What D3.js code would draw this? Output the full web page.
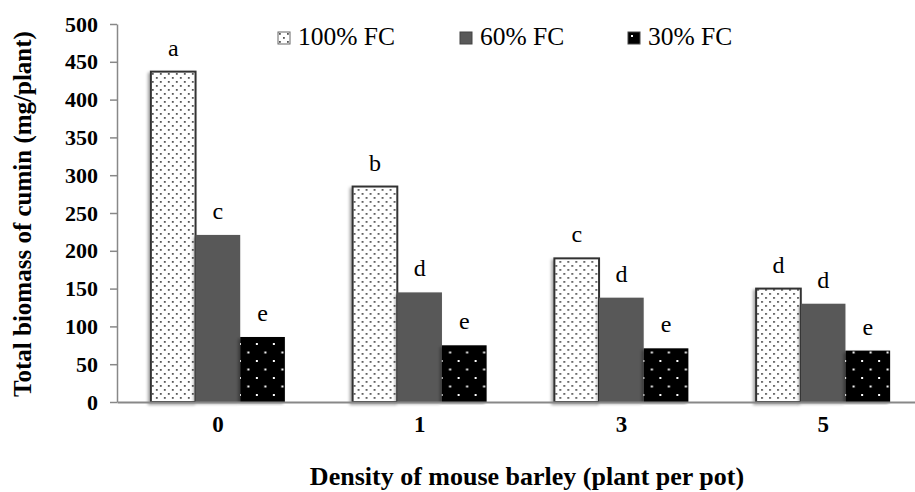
<!DOCTYPE html>
<html>
<head>
<meta charset="utf-8">
<script src="https://cdn.jsdelivr.net/npm/d3@7"></script>
<style>
  body { margin: 0; background: #fff; }
  svg { display: block; font-family: "Liberation Serif", "Times New Roman", serif; }
</style>
</head>
<body>
<div id="chart"></div>
<script>
// data
var densities = ["0", "1", "3", "5"];
var treatments = ["100% FC", "60% FC", "30% FC"];
var fc100 = [437, 285, 190, 150];
var fc60 = [221, 145, 138, 130];
var fc30 = [86, 75, 71, 68];
var letters100 = ["a", "b", "c", "d"];
var letters60 = ["c", "d", "d", "d"];
var letters30 = ["e", "e", "e", "e"];
var yTicks = [0, 50, 100, 150, 200, 250, 300, 350, 400, 450, 500];

var W = 915, H = 492;
var plotL = 117, plotR = 924, plotT = 24, plotB = 402;

var svg = d3.select("#chart").append("svg")
  .attr("width", W)
  .attr("height", H);

var defs = svg.append("defs");

// dotted white pattern for 100% FC
var p1 = defs.append("pattern")
  .attr("id", "dotsLight")
  .attr("patternUnits", "userSpaceOnUse")
  .attr("width", 8).attr("height", 8);
p1.append("rect").attr("width", 8).attr("height", 8).attr("fill", "#fff");
p1.append("rect").attr("x", 1).attr("y", 1).attr("width", 1.8).attr("height", 1.8).attr("fill", "#555");
p1.append("rect").attr("x", 5).attr("y", 5).attr("width", 1.8).attr("height", 1.8).attr("fill", "#555");

// sparse white dots on black for 30% FC
var p3 = defs.append("pattern")
  .attr("id", "dotsDark")
  .attr("patternUnits", "userSpaceOnUse")
  .attr("width", 17).attr("height", 17);
p3.append("rect").attr("width", 17).attr("height", 17).attr("fill", "#000");
p3.append("rect").attr("x", 3).attr("y", 3).attr("width", 2).attr("height", 2).attr("fill", "#fff");
p3.append("rect").attr("x", 11.5).attr("y", 11.5).attr("width", 2).attr("height", 2).attr("fill", "#fff");

var shadow = defs.append("filter").attr("id", "shadow")
  .attr("x", "-20%").attr("y", "-5%").attr("width", "140%").attr("height", "110%");
shadow.append("feDropShadow")
  .attr("dx", -2).attr("dy", 2).attr("stdDeviation", 1.5)
  .attr("flood-color", "#000").attr("flood-opacity", 0.35);

var series = [
  { name: treatments[0], values: fc100, letters: letters100, fill: "url(#dotsLight)", stroke: "#333" },
  { name: treatments[1], values: fc60, letters: letters60, fill: "#595959", stroke: "none" },
  { name: treatments[2], values: fc30, letters: letters30, fill: "url(#dotsDark)", stroke: "none" }
];

var x0 = d3.scaleBand().domain(densities).range([plotL, plotR]).paddingInner(0).paddingOuter(0);
var groupW = 134;
var x1 = d3.scaleBand().domain(treatments).range([0, groupW]);
var y = d3.scaleLinear().domain([0, 500]).range([plotB, plotT]);

// axes
var yAxis = svg.append("g")
  .attr("transform", "translate(" + plotL + ",0)")
  .call(d3.axisLeft(y).tickValues(yTicks).tickSize(7).tickPadding(12).tickSizeOuter(0));
yAxis.select(".domain").attr("stroke", "#888").attr("stroke-width", 1.5);
yAxis.selectAll(".tick line").attr("stroke", "#888").attr("stroke-width", 1.5);
yAxis.selectAll(".tick text")
  .attr("font-family", "Liberation Serif, serif")
  .attr("font-size", 22).attr("font-weight", "bold").attr("fill", "#000");

// bars
var groups = svg.append("g").selectAll("g")
  .data(densities)
  .join("g")
  .attr("transform", function(d) {
    return "translate(" + (x0(d) + x0.bandwidth() / 2 - groupW / 2) + ",0)";
  });

function cells(d, i) {
  return series.map(function(s) {
    return { s: s, v: s.values[i], l: s.letters[i] };
  });
}

groups.selectAll("rect")
  .data(cells)
  .join("rect")
  .attr("x", function(d) { return x1(d.s.name); })
  .attr("y", function(d) { return y(d.v); })
  .attr("width", x1.bandwidth())
  .attr("height", function(d) { return y(0) - y(d.v); })
  .attr("fill", function(d) { return d.s.fill; })
  .attr("stroke", function(d) { return d.s.stroke; })
  .attr("stroke-width", 2)
  .attr("filter", "url(#shadow)");

groups.selectAll("text.letter")
  .data(cells)
  .join("text")
  .attr("class", "letter")
  .attr("x", function(d) { return x1(d.s.name) + x1.bandwidth() / 2; })
  .attr("y", function(d) { return y(d.v) - 16; })
  .attr("text-anchor", "middle")
  .attr("font-size", 24)
  .text(function(d) { return d.l; });

// baseline
var xAxis = svg.append("g")
  .attr("transform", "translate(0," + plotB + ")")
  .call(d3.axisBottom(x0).tickSize(0).tickPadding(14).tickSizeOuter(0));
xAxis.select(".domain").attr("stroke", "#888").attr("stroke-width", 2);
xAxis.selectAll(".tick text")
  .attr("font-family", "Liberation Serif, serif")
  .attr("font-size", 23).attr("font-weight", "bold").attr("fill", "#000");

// axis titles
svg.append("text")
  .attr("x", 527).attr("y", 485)
  .attr("text-anchor", "middle")
  .attr("font-size", 26).attr("font-weight", "bold")
  .text("Density of mouse barley (plant per pot)");

svg.append("text")
  .attr("transform", "translate(31,214) rotate(-90)")
  .attr("text-anchor", "middle")
  .attr("font-size", 25).attr("font-weight", "bold")
  .text("Total  biomass of cumin (mg/plant)");

// legend
var legendX = [278, 460, 628];
var legend = svg.append("g").selectAll("g")
  .data(series)
  .join("g")
  .attr("transform", function(d, i) { return "translate(" + legendX[i] + ",32)"; });
legend.append("rect")
  .attr("width", 12).attr("height", 12)
  .attr("fill", function(d) { return d.fill; })
  .attr("stroke", function(d, i) { return i === 0 ? "#666" : "#444"; })
  .attr("stroke-width", 1);
legend.append("text")
  .attr("x", 20).attr("y", 13)
  .attr("font-size", 25.5)
  .text(function(d) { return d.name; });
</script>
</body>
</html>
